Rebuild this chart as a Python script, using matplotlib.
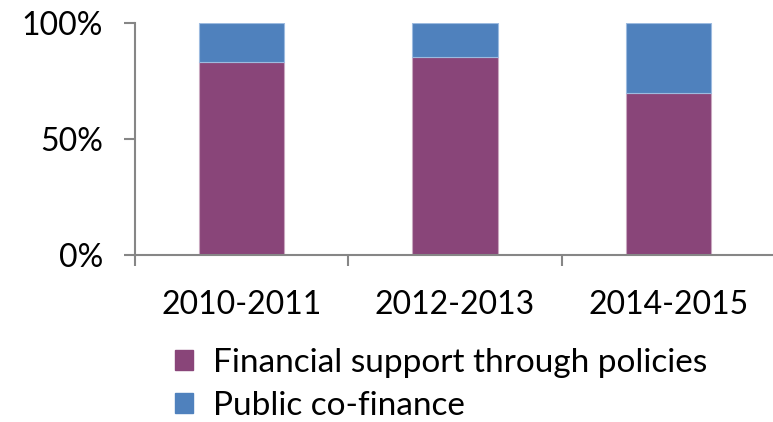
import matplotlib.pyplot as plt
import numpy as np
from matplotlib.patches import Patch

# data (share of total, %)
periods = ['2010-2011', '2012-2013', '2014-2015']
policies = [83.5, 85.5, 70.0]
cofinance = [16.5, 14.5, 30.0]
ytick_vals = [0, 50, 100]
ytick_labels = ['0%', '50%', '100%']

purple = '#894579'
blue = '#4f81bd'
axis_grey = '#868686'

plt.rcParams['font.family'] = ['Lato', 'DejaVu Sans']

fig = plt.figure(figsize=(7.73, 4.22), dpi=100)
ax = fig.add_axes([135/773, 1-255/422, 640/773, (255-23.3)/422])

x = np.arange(len(periods))
ax.bar(x, policies, width=0.4, color=purple, edgecolor='#c9a8c0', linewidth=0.8)
ax.bar(x, cofinance, width=0.4, bottom=policies, color=blue, edgecolor='#9dbbe0', linewidth=0.8)

ax.set_xlim(-0.5, 2.5)
ax.set_ylim(0, 100)

# y axis
ax.set_yticks(ytick_vals)
ax.set_yticklabels(ytick_labels, fontsize=23)
ax.tick_params(axis='y', length=8, width=1.5, color=axis_grey, pad=15)

# x axis: boundary ticks, labels in the middle
ax.set_xticks([-0.5, 0.5, 1.5, 2.5])
ax.set_xticklabels([])
ax.tick_params(axis='x', which='major', length=8, width=1.5, color=axis_grey)
ax.set_xticks(x, minor=True)
ax.set_xticklabels(periods, minor=True, fontsize=23)
ax.tick_params(axis='x', which='minor', length=0, pad=25)

for side in ['top', 'right']:
    ax.spines[side].set_visible(False)
for side in ['left', 'bottom']:
    ax.spines[side].set_color(axis_grey)
    ax.spines[side].set_linewidth(1.5)

handles = [Patch(color=purple, label='Financial support through policies'),
           Patch(color=blue, label='Public co-finance')]
fig.legend(handles=handles, loc='upper left', bbox_to_anchor=(175/773, 1-348/422),
           frameon=False, fontsize=24, handlelength=0.55, handleheight=0.55,
           handletextpad=0.6, labelspacing=0.38, borderaxespad=0, borderpad=0)

fig.savefig('out.png', dpi=100)
